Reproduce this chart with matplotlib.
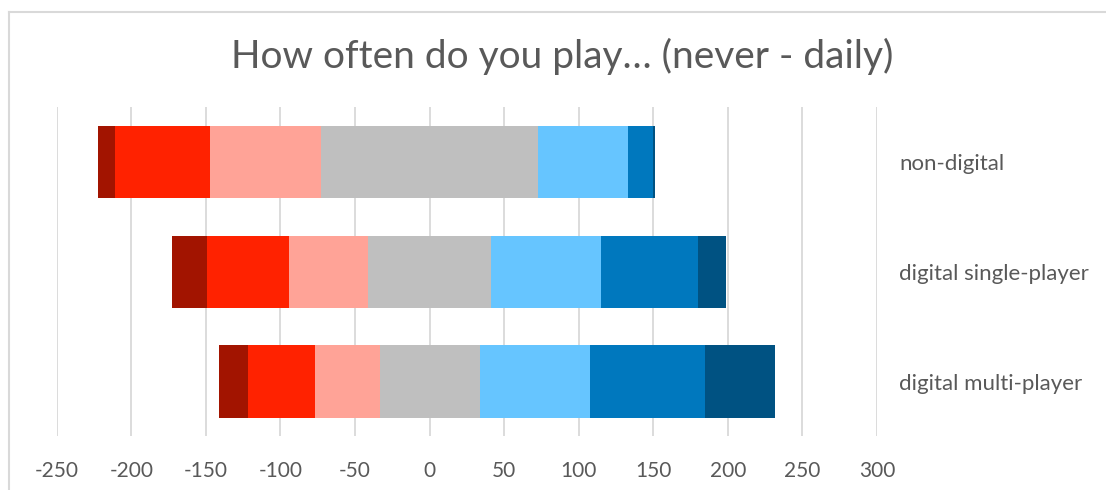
"""Diverging stacked bar chart: how often people play (never - daily)."""
import numpy as np
import matplotlib.pyplot as plt
from matplotlib.lines import Line2D

plt.rcParams['font.family'] = ['Lato', 'DejaVu Sans']

categories = ["non-digital", "digital single-player", "digital multi-player"]
# answer counts per category, from "never" (left) to "daily" (right)
never = [11, 24, 20]
rarely = [64, 55, 45]
sometimes = [74, 53, 43]
neutral = [146, 82, 67]
often = [60, 74, 74]
very_often = [17, 65, 77]
daily = [1, 19, 47]

series = [never, rarely, sometimes, neutral, often, very_often, daily]
colors = ["#A21400", "#FF2200", "#FFA397", "#BFBFBF", "#66C5FF", "#0078BE", "#005282"]
xticks = list(range(-250, 301, 50))

TEXT = "#595959"
GRID = "#D9D9D9"

fig = plt.figure(figsize=(11.06, 4.9), dpi=100)
ax = fig.add_axes([0.0513, 0.1092, 0.7416, 0.6724])

y = np.arange(len(categories))
left = -(np.array(never) + np.array(rarely) + np.array(sometimes) + np.array(neutral) / 2.0)
for vals, col in zip(series, colors):
    vals = np.asarray(vals, dtype=float)
    ax.barh(y, vals, left=left, height=0.66, color=col, edgecolor="none", zorder=3)
    left = left + vals

ax.set_xlim(-250, 300)
ax.set_ylim(len(categories) - 0.5, -0.5)
ax.set_xticks(xticks)
ax.set_xticklabels([str(t) for t in xticks])
ax.grid(axis="x", color=GRID, linewidth=1.3, zorder=0)
ax.tick_params(axis="x", length=0, pad=18, labelsize=15, labelcolor=TEXT)

ax.set_yticks(y)
ax.set_yticklabels(categories)
ax.yaxis.tick_right()
ax.tick_params(axis="y", length=0, pad=16, labelsize=16, labelcolor=TEXT)
for s in ax.spines.values():
    s.set_visible(False)

fig.text(0.508, 0.885, "How often do you play\u2026 (never - daily)", ha="center", va="center",
         fontsize=28, color=TEXT)

# chart frame (top and left edges visible, rest cropped)
fig.add_artist(Line2D([9 / 1106, 1.0], [1 - 12 / 490] * 2, color=GRID, linewidth=1.5))
fig.add_artist(Line2D([9 / 1106] * 2, [0.0, 1 - 12 / 490], color=GRID, linewidth=1.5))

fig.savefig("out.png", dpi=100)
